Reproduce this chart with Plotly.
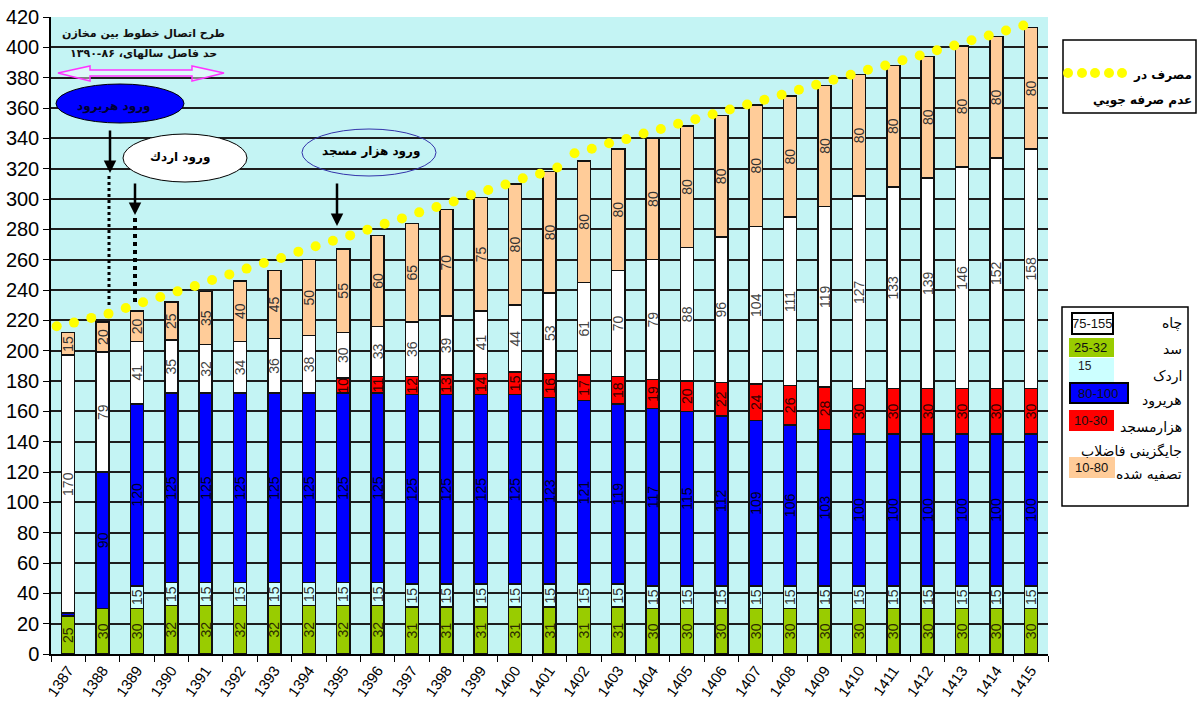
import plotly.graph_objects as go

# ---- data -------------------------------------------------------------
years = [str(y) for y in range(1387, 1416)]

dam = [25, 30, 30, 32, 32, 32, 32, 32, 32, 32, 31, 31, 31, 31, 31, 31, 31,
       30, 30, 30, 30, 30, 30, 30, 30, 30, 30, 30, 30]
ardak = [0, 0] + [15] * 27
harirud = [2, 90, 120, 125, 125, 125, 125, 125, 125, 125, 125, 125, 125, 125,
           123, 121, 119, 117, 115, 112, 109, 106, 103, 100, 100, 100, 100, 100, 100]
hezar = [0, 0, 0, 0, 0, 0, 0, 0, 10, 11, 12, 13, 14, 15, 16, 17, 18, 19, 20,
         22, 24, 26, 28, 30, 30, 30, 30, 30, 30]
wells = [170, 79, 41, 35, 32, 34, 36, 38, 30, 33, 36, 39, 41, 44, 53, 61, 70,
         79, 88, 96, 104, 111, 119, 127, 133, 139, 146, 152, 158]
wastewater = [15, 20, 20, 25, 35, 40, 45, 50, 55, 60, 65, 70, 75] + [80] * 16

# consumption without saving, sampled every half year
consumption = [216.1, 218.5, 221.6, 224.4, 228.1, 231.9, 235.4, 239.1, 242.6,
               246.6, 250.3, 254.1, 257.8, 261.1, 265.3, 268.8, 272.5, 276.0,
               279.8, 283.7, 287.2, 291.2, 294.7, 298.4, 302.6, 305.9, 309.6,
               313.6, 316.7, 320.8, 330.2, 333.1, 336.8, 339.5, 343.2, 346.1,
               349.6, 352.6, 355.9, 359.0, 362.3, 365.4, 368.7, 372.0, 375.3,
               378.6, 381.9, 385.2, 388.0, 391.5, 394.6, 398.1, 401.2, 404.7,
               407.8, 411.1, 414.4]
consumption_t = [1387 + k / 2 for k in range(len(consumption))]

# ---- geometry of the plot area (pixels) ------------------------------
W, H = 1198, 713
L, R, T, B = 51, 1048, 17, 654


def px(x):
    return (x - L) / (R - L)


def py(y):
    return (B - y) / (B - T)


FA = "DejaVu Sans"
NUM = "Arial, Liberation Sans, sans-serif"


def note(x, y, text, size=12, color="#000", family=FA, anchor="center"):
    return dict(xref="paper", yref="paper", x=px(x), y=py(y), text=text,
                showarrow=False, xanchor=anchor, yanchor="middle",
                font=dict(family=family, size=size, color=color))


fig = go.Figure()

segments = [
    (dam, "سد", "#99CC00", "#2a2a00"),
    (ardak, "اردک", "#CCFFFF", "#333333"),
    (harirud, "هریرود", "#0000FF", "#000022"),
    (hezar, "هزارمسجد", "#FF0000", "#330000"),
    (wells, "چاه", "#FFFFFF", "#444444"),
    (wastewater, "جایگزینی فاضلاب تصفیه شده", "#FFCC99", "#333333"),
]
for vals, name, color, tcol in segments:
    fig.add_trace(go.Bar(
        x=years, y=vals, name=name,
        marker=dict(color=color, line=dict(color="#111111", width=1.5)),
        text=[str(v) if v >= 5 else "" for v in vals],
        textposition="inside", textangle=-90, insidetextanchor="middle",
        textfont=dict(family=NUM, size=14, color=tcol),
        hoverinfo="x+y+name",
    ))

fig.add_trace(go.Scatter(
    x=consumption_t, y=consumption, xaxis="x2", mode="markers",
    marker=dict(color="#FFFF00", size=10, line=dict(width=0)),
    name="مصرف در عدم صرفه جويي",
))

shapes = []
annotations = []

# double-headed outline arrow for the connection period
pts = [(58, 73), (90, 66), (90, 70), (192, 70), (192, 66), (224, 73),
       (192, 81), (192, 76), (90, 76), (90, 81)]
path = "M " + " L ".join(f"{px(x):.5f},{py(y):.5f}" for x, y in pts) + " Z"
shapes.append(dict(type="path", xref="paper", yref="paper", path=path,
                   line=dict(color="#FF33FF", width=1.5),
                   fillcolor="rgba(255,255,255,0.45)"))
annotations.append(note(143, 34, "<b>طرح اتصال خطوط بين مخازن</b>", 11, "#111"))
annotations.append(note(143, 53, "<b>حد فاصل سالهای، ۸۶-۱۳۹۰</b>", 11, "#111"))

# entry callouts
shapes.append(dict(type="circle", xref="paper", yref="paper",
                   x0=px(56), x1=px(184), y0=py(123), y1=py(84),
                   fillcolor="#0000FF", line=dict(color="#000000", width=1)))
annotations.append(note(114, 106, "<b>ورود هريرود</b>", 12, "#000033"))

shapes.append(dict(type="circle", xref="paper", yref="paper",
                   x0=px(123), x1=px(247), y0=py(182), y1=py(134),
                   fillcolor="#FFFFFF", line=dict(color="#000000", width=1)))
annotations.append(note(180, 157, "<b>ورود اردك</b>", 12))

shapes.append(dict(type="circle", xref="paper", yref="paper",
                   x0=px(302), x1=px(436), y0=py(176), y1=py(129),
                   fillcolor="rgba(0,0,0,0)", line=dict(color="#3333AA", width=1)))
annotations.append(note(371, 152, "<b>ورود هزار مسجد</b>", 12))

# arrows from the callouts
for x, y_tail, y_head in [(110, 129, 173), (135, 182, 215), (337, 182, 226)]:
    annotations.append(dict(xref="paper", yref="paper", x=px(x), y=py(y_head),
                            ax=0, ay=-(y_head - y_tail), text="", showarrow=True,
                            arrowhead=2, arrowsize=1, arrowwidth=2.5,
                            arrowcolor="#000"))
shapes.append(dict(type="line", xref="paper", yref="paper",
                   x0=px(109), x1=px(109), y0=py(176), y1=py(308),
                   line=dict(color="#000", width=3, dash="dot")))
shapes.append(dict(type="line", xref="paper", yref="paper",
                   x0=px(135), x1=px(135), y0=py(218), y1=py(302),
                   line=dict(color="#000", width=4, dash="dot")))

# legend: consumption
shapes.append(dict(type="rect", xref="paper", yref="paper",
                   x0=px(1063), x1=px(1196), y0=py(113), y1=py(40),
                   fillcolor="#FFFFFF", line=dict(color="#000", width=1.5)))
for cx in [1068, 1082, 1095, 1109, 1122]:
    shapes.append(dict(type="circle", xref="paper", yref="paper",
                       x0=px(cx - 5), x1=px(cx + 5), y0=py(78), y1=py(68),
                       fillcolor="#FFFF00", line=dict(width=0)))
annotations.append(note(1194, 75, "<b>مصرف در</b>", 12, anchor="right"))
annotations.append(note(1194, 101, "<b>عدم صرفه جويي</b>", 12, anchor="right"))

# legend: sources
shapes.append(dict(type="rect", xref="paper", yref="paper",
                   x0=px(1062), x1=px(1188), y0=py(506), y1=py(307),
                   fillcolor="#FFFFFF", line=dict(color="#000", width=1.5)))
legend_rows = [
    # swatch x0, x1, y0, y1, fill, border, swatch text, label, label y
    (1072, 1113, 313, 334, "#FFFFFF", "#000", "75-155", "چاه", 323),
    (1069, 1114, 338, 357, "#99CC00", None, "25-32", "سد", 349),
    (1069, 1114, 358, 382, "#CCFFFF", None, "15", "اردک", 376),
    (1070, 1128, 383, 403, "#0000FF", "#000", "80-100", "هریرود", 401),
    (1069, 1114, 410, 431, "#FF0000", None, "10-30", "هزارمسجد", 427),
    (1069, 1115, 457, 478, "#FFCC99", None, "10-80", "تصفیه شده", 474),
]
for x0, x1, y0, y1, fill, border, stext, label, ly in legend_rows:
    shapes.append(dict(type="rect", xref="paper", yref="paper",
                       x0=px(x0), x1=px(x1), y0=py(y1), y1=py(y0),
                       fillcolor=fill,
                       line=dict(color=border or fill, width=2 if border else 0)))
    if stext == "15":
        annotations.append(note(1076, 366, stext, 12, "#222", NUM, "left"))
    else:
        annotations.append(note((x0 + x1) / 2 - 1, (y0 + y1) / 2, stext, 13,
                                "#111", NUM))
    annotations.append(note(1184, ly, label, 14, anchor="right"))
annotations.append(note(1184, 452, "جایگزینی فاضلاب", 14, anchor="right"))

fig.update_layout(
    width=W, height=H,
    margin=dict(l=L, r=W - R, t=T, b=H - B, pad=0),
    barmode="stack", bargap=0.62,
    plot_bgcolor="#C4F4F4", paper_bgcolor="#FFFFFF",
    showlegend=False,
    uniformtext=dict(minsize=14, mode="show"),
    font=dict(family=NUM, color="#000"),
    xaxis=dict(type="category", showline=True, linecolor="#000", linewidth=1.5,
               ticks="outside", tickson="boundaries", ticklen=6, tickcolor="#000",
               tickangle=-55, tickfont=dict(family=NUM, size=15, color="#000"),
               automargin=False, showgrid=False),
    xaxis2=dict(overlaying="x", visible=False, range=[1386.834, 1415.716]),
    yaxis=dict(range=[0, 420], dtick=20, showline=True, linecolor="#000",
               linewidth=1.5, ticks="outside", ticklen=6, tickcolor="#000",
               showgrid=True, gridcolor="#1E1E1E", gridwidth=1.5, zeroline=False,
               automargin=False,
               tickfont=dict(family=NUM, size=20, color="#000")),
    shapes=shapes,
    annotations=annotations,
)

fig.write_html("out.html",
               post_script="document.body.style.margin='0';")
